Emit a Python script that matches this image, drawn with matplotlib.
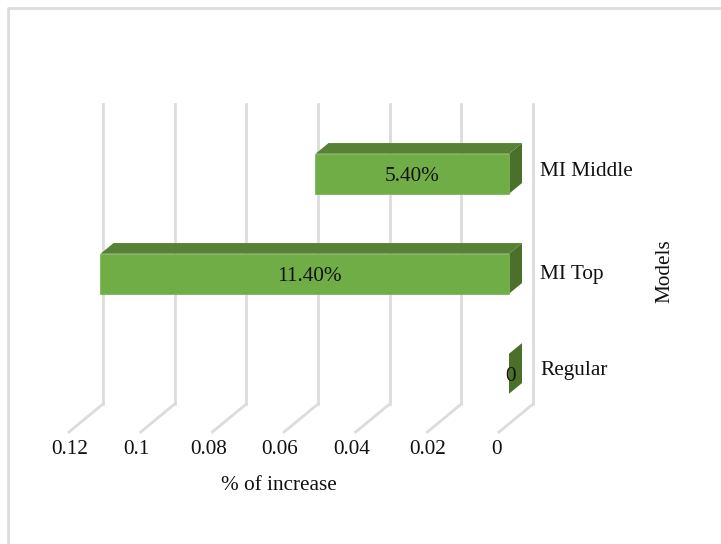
import matplotlib.pyplot as plt
from matplotlib.patches import Polygon
from matplotlib.transforms import Affine2D

W, H = 721, 544

models = ["Regular", "MI Top", "MI Middle"]
increase = [0, 0.114, 0.054]
bar_labels = ["0", "11.40%", "5.40%"]
xticks = [0.12, 0.1, 0.08, 0.06, 0.04, 0.02, 0]
xtick_labels = ["0.12", "0.1", "0.08", "0.06", "0.04", "0.02", "0"]

plt.rcParams['font.family'] = ['Liberation Serif', 'DejaVu Serif']
FS = 15.3
GRID = "#dcdcdc"

fig = plt.figure(figsize=(W / 100, H / 100), dpi=100)

# outer chart border, only top and left are in the picture
fig.add_artist(plt.Line2D([7.5 / W, 7.5 / W, 1], [0, 1 - 7.5 / H, 1 - 7.5 / H],
                          color=GRID, lw=2))

# axes = the back wall of the 3d chart
ax = fig.add_axes([103 / W, 1 - 404 / H, 430 / W, 300 / H])
ax.set_xlim(0.12, 0)
ax.set_ylim(-0.5, 2.5)
ax.axis("off")


# shift in pixels away from the wall, towards the viewer
def depth(px):
    return ax.transData + Affine2D().translate(-px, -px * 28 / 34)


# gridlines with their floor part
for t in xticks:
    ax.plot([t, t], [-0.5, 2.5], color=GRID, lw=2, clip_on=False, zorder=1)
    x0, y0 = ax.transData.transform((t, -0.5))
    fig.add_artist(plt.Line2D([x0 / W, (x0 - 34) / W], [y0 / H, (y0 - 28) / H],
                              color=GRID, lw=2))

front = depth(24)
back = depth(11)
h = 0.2
label_x = [510, 309, 412]
for i, v in enumerate(increase):
    fp = front.transform([(v, i - h), (0, i - h), (0, i + h), (v, i + h)])
    bp = back.transform([(v, i - h), (0, i - h), (0, i + h), (v, i + h)])
    # side face
    ax.add_patch(Polygon([fp[1], bp[1], bp[2], fp[2]], transform=None, color="#4a7029", lw=0,
                         clip_on=False, zorder=3))
    if v > 0:
        ax.add_patch(Polygon([fp[3], fp[2], bp[2], bp[3]], transform=None, color="#578135", lw=0,
                             clip_on=False, zorder=3))
        ax.add_patch(Polygon(fp, transform=None, facecolor="#70ad47", edgecolor="#7db35a", lw=0.6,
                             clip_on=False, zorder=4))
    cy = (fp[0][1] + fp[3][1]) / 2
    fig.text(label_x[i] / W, (cy - 3) / H, bar_labels[i], ha="center", va="center", fontsize=FS,
             color="#111111", zorder=5)

label_y = [371, 275, 171]
for name, y in zip(models, label_y):
    fig.text(540 / W, 1 - y / H, name, ha="left", va="center", fontsize=FS, color="#111111")

tick_x = [70, 136, 209, 280, 352, 428, 496]
for lab, x in zip(xtick_labels, tick_x):
    fig.text(x / W, 1 - 449 / H, lab, ha="center", va="center", fontsize=FS, color="#111111")

fig.text(279 / W, 1 - 485 / H, "% of increase", ha="center", va="center", fontsize=FS, color="#111111")
fig.text(665 / W, 1 - 271 / H, "Models", rotation=90, ha="center", va="center", fontsize=FS, color="#111111")

fig.savefig("out.png", dpi=100)
